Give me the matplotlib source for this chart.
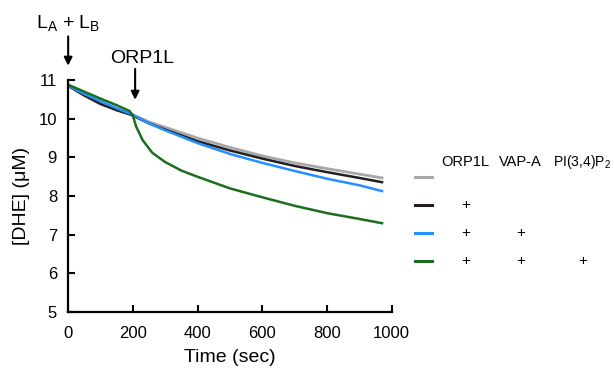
import numpy as np
import matplotlib
matplotlib.use("Agg")
import matplotlib.pyplot as plt
from matplotlib.lines import Line2D

plt.rcParams['font.family'] = ['Liberation Sans', 'DejaVu Sans']
plt.rcParams['mathtext.fontset'] = 'custom'
plt.rcParams['mathtext.rm'] = 'Liberation Sans'

# values
t_ctrl = [0, 50, 100, 150, 195, 250, 300, 400, 500, 600, 700, 800, 900, 970]
dhe_gray = [10.85, 10.62, 10.42, 10.25, 10.12, 9.92, 9.78, 9.50, 9.26, 9.04, 8.86, 8.71, 8.57, 8.47]
dhe_black = [10.85, 10.60, 10.38, 10.22, 10.10, 9.88, 9.72, 9.42, 9.18, 8.97, 8.78, 8.62, 8.47, 8.36]
dhe_blue = [10.85, 10.64, 10.45, 10.27, 10.12, 9.88, 9.70, 9.37, 9.09, 8.86, 8.65, 8.45, 8.28, 8.13]
t_green = [0, 50, 100, 150, 190, 200, 210, 230, 260, 300, 350, 400, 500, 600, 700, 800, 900, 970]
dhe_green = [10.88, 10.70, 10.52, 10.35, 10.20, 10.08, 9.80, 9.45, 9.12, 8.88, 8.66, 8.50, 8.20,
             7.97, 7.75, 7.56, 7.41, 7.30]

colors = ['#a8a8a8', '#231f20', '#2390ff', '#1b6e1d']
col_labels = ['ORP1L', 'VAP-A', r'PI(3,4)P$_\mathregular{2}$']
plus_table = [[0, 0, 0], [1, 0, 0], [1, 1, 0], [1, 1, 1]]

fig = plt.figure(figsize=(6.14, 3.69), dpi=100)
ax = fig.add_axes([0.111, 0.154, 0.527, 0.629])

ax.plot(t_ctrl, dhe_gray, color=colors[0], lw=2.0)
ax.plot(t_ctrl, dhe_black, color=colors[1], lw=1.8)
ax.plot(t_ctrl, dhe_blue, color=colors[2], lw=1.8)
ax.plot(t_green, dhe_green, color=colors[3], lw=1.8)

ax.set_xlim(0, 1000)
ax.set_ylim(5, 11)
ax.set_xticks(np.arange(0, 1001, 200))
ax.set_yticks(np.arange(5, 12, 1))
ax.tick_params(direction='in', length=5, width=1.5, labelsize=12)
ax.tick_params(axis='x', pad=10)
ax.tick_params(axis='y', pad=8)
for s in ['top', 'right']:
    ax.spines[s].set_visible(False)
for s in ['left', 'bottom']:
    ax.spines[s].set_linewidth(1.6)
ax.set_xlabel('Time (sec)', fontsize=14, labelpad=6)
ax.set_ylabel('[DHE] (μM)', fontsize=14, labelpad=6)

# arrows for additions
ax.annotate('', xy=(0, 11.3), xytext=(0, 12.2), annotation_clip=False,
            arrowprops=dict(arrowstyle='-|>', color='black', lw=1.5, mutation_scale=12))
ax.text(0, 12.45, r'L$_\mathregular{A}$ + L$_\mathregular{B}$', ha='center', va='center',
        fontsize=14)
ax.annotate('', xy=(207, 10.42), xytext=(207, 11.36), annotation_clip=False,
            arrowprops=dict(arrowstyle='-|>', color='black', lw=1.5, mutation_scale=12))
ax.text(228, 11.55, 'ORP1L', ha='center', va='center', fontsize=14)

# legend table
row_y = [177, 205, 233, 261]
col_x = [466, 521, 583]
W, H = 614, 369
fig.text(441 / W, 1 - 162 / H, col_labels[0], ha='left', va='center', fontsize=10.5)
fig.text(499 / W, 1 - 162 / H, col_labels[1], ha='left', va='center', fontsize=10.5)
fig.text(553 / W, 1 - 162 / H, col_labels[2], ha='left', va='center', fontsize=10)
for i, y in enumerate(row_y):
    fig.add_artist(Line2D([415 / W, 432 / W], [1 - y / H, 1 - y / H], color=colors[i],
                          lw=2.2, transform=fig.transFigure))
    for j, x in enumerate(col_x):
        if plus_table[i][j]:
            fig.text(x / W, 1 - y / H, '+', ha='center', va='center', fontsize=11)

fig.savefig('out.png', dpi=100)
